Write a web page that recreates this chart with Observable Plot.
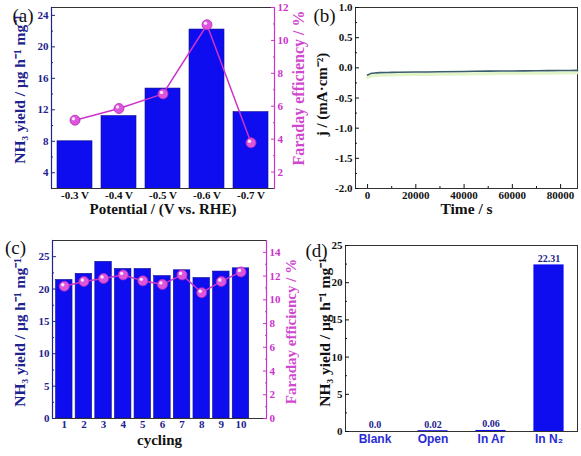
<!DOCTYPE html>
<html><head><meta charset="utf-8">
<script src="https://cdn.jsdelivr.net/npm/d3@7"></script>
<script src="https://cdn.jsdelivr.net/npm/@observablehq/plot@0.6"></script>
<style>
body{margin:0;background:#fff;}
#wrap{position:relative;width:581px;height:456px;overflow:hidden;background:#fff;}
#wrap svg{position:absolute;background:transparent;overflow:visible;}
</style></head><body><div id="wrap"></div>
<script>
// ---- (a) potential dependence ----
const potentials = ["-0.3 V", "-0.4 V", "-0.5 V", "-0.6 V", "-0.7 V"];
const yieldA = [8.0, 11.2, 14.7, 22.2, 11.7];
const feA = [5.15, 5.86, 6.75, 10.95, 3.78];
// ---- (b) chronoamperometry ----
const timeB = [0, 500, 1000, 2000, 3000, 5000, 10000, 20000, 30000, 40000, 50000, 60000, 70000, 80000, 87000];
const currentB = [-0.12, -0.11, -0.10, -0.09, -0.085, -0.08, -0.076, -0.07, -0.066, -0.06, -0.055, -0.052, -0.048, -0.045, -0.042];
// ---- (c) cycling ----
const cycles = [1, 2, 3, 4, 5, 6, 7, 8, 9, 10];
const yieldC = [21.4, 22.35, 24.2, 23.1, 23.1, 22.0, 22.9, 21.7, 22.7, 23.2];
const feC = [11.15, 11.55, 11.8, 12.1, 11.6, 11.3, 12.1, 10.6, 11.55, 12.35];
// ---- (d) control experiments ----
const conditions = ["Blank", "Open", "In Ar", "In N₂"];
const yieldD = [0.0, 0.02, 0.06, 22.31];
const labelD = ["0.0", "0.02", "0.06", "22.31"];

// tick values
const yTicksA = [4, 8, 12, 16, 20, 24], yMinorA = [6, 10, 14, 18, 22];
const feTicksA = [2, 4, 6, 8, 10, 12], feMinorA = [3, 5, 7, 9, 11];
const yTicksB = [-2, -1.5, -1, -0.5, 0, 0.5, 1], yMinorB = [-1.75, -1.25, -0.75, -0.25, 0.25, 0.75];
const xTicksB = [0, 20000, 40000, 60000, 80000], xMinorB = [10000, 30000, 50000, 70000];
const yTicksC = [0, 5, 10, 15, 20, 25], yMinorC = [2.5, 7.5, 12.5, 17.5, 22.5];
const feTicksC = [0, 2, 4, 6, 8, 10, 12, 14], feMinorC = [1, 3, 5, 7, 9, 11, 13];
const yTicksD = [0, 5, 10, 15, 20, 25], yMinorD = [2.5, 7.5, 12.5, 17.5, 22.5];

const wrap = document.getElementById("wrap");
function put(svg, left, top) { svg.style.left = left + "px"; svg.style.top = top + "px"; wrap.appendChild(svg); }

const serif = "Liberation Serif";
const navy = "#22228e", blue = "#0d0df0", edge = "#0a0a8c", mag = "#cc33cc", magText = "#d048d0", ink = "#111";
const style = {fontFamily: serif, fontWeight: "bold", fontSize: "11px", background: "transparent", overflow: "visible"};
const titleStyle = {fontFamily: serif, fontWeight: "bold", fontSize: 15};
const vTitle = {fontFamily: serif, fontWeight: "bold", fontSize: 15.5, rotate: -90, textAnchor: "middle", lineAnchor: "middle"};
const blank = () => "";

function panelLabel(t, dx, dy) {
  return Plot.text([t], {frameAnchor: "top-left", textAnchor: "middle", lineAnchor: "middle", dx, dy,
    fontFamily: serif, fontWeight: "normal", fontSize: 19, fill: ink});
}

// ================= (a) =================
const dataA = potentials.map((p, i) => ({p, y: yieldA[i], fe: feA[i]}));
const dimA = {width: 300, height: 228, marginLeft: 51, marginRight: 26, marginTop: 7, marginBottom: 40};
const xA = {type: "band", domain: potentials, paddingInner: 0.2, paddingOuter: 0.1, label: null};

put(Plot.plot({
  ...dimA, style,
  x: xA,
  y: {domain: [2, 25], label: null},
  marks: [
    Plot.barY(dataA, {x: "p", y: "y", fill: blue, stroke: edge, strokeWidth: 0.6, clip: true}),
    Plot.frame({stroke: "#333"}),
    Plot.frame({anchor: "left", stroke: navy, strokeWidth: 1.2}),
    Plot.axisY(yTicksA, {tickSize: -4, tickPadding: 7, color: navy, label: null}),
    Plot.axisY(yMinorA, {tickSize: -2, tickFormat: blank, color: navy, label: null}),
    Plot.axisX({tickSize: 0, tickPadding: 3, color: ink, label: null}),
    Plot.text(["Potential / (V vs. RHE)"], {frameAnchor: "bottom", dy: 25.5, fill: ink, ...titleStyle}),
    Plot.text(["NH₃ yield / μg h⁻¹ mg⁻¹"], {frameAnchor: "left", dx: -31, dy: -8.5, fill: navy, ...vTitle}),
    panelLabel("(a)", -28.5, 8)
  ]
}), 0, 0);

put(Plot.plot({
  ...dimA, style,
  x: {...xA, axis: null},
  y: {domain: [1, 12], label: null},
  marks: [
    Plot.frame({anchor: "right", stroke: mag, strokeWidth: 1.2}),
    Plot.axisY(feTicksA, {anchor: "right", tickSize: -4, tickPadding: 7, color: mag, label: null}),
    Plot.axisY(feMinorA, {anchor: "right", tickSize: -2, tickFormat: blank, color: mag, label: null}),
    Plot.line(dataA, {x: "p", y: "fe", stroke: mag, strokeWidth: 1.5}),
    Plot.dot(dataA, {x: "p", y: "fe", r: 5, fill: "#dc55dc", stroke: "#b52ab5", strokeWidth: 0.8}),
    Plot.dot(dataA, {x: "p", y: "fe", r: 1.7, fill: "#fff", fillOpacity: 0.85, stroke: null, dx: -1.5, dy: -1.5}),
    Plot.text(["Faraday efficiency / %"], {frameAnchor: "right", dx: 24.5, dy: -10, fill: magText, ...vTitle, fontSize: 16})
  ]
}), 0, 0);

// ================= (b) =================
const dataB = timeB.map((t, i) => ({t, j: currentB[i]}));
put(Plot.plot({
  width: 291, height: 228, marginLeft: 65, marginRight: 4, marginTop: 7, marginBottom: 40, style,
  x: {domain: [-5000, 87000], label: null},
  y: {domain: [-2, 1], label: null},
  marks: [
    Plot.frame({stroke: "#333"}),
    Plot.axisY(yTicksB, {tickSize: -4, tickPadding: 7, tickFormat: d => d.toFixed(1), color: ink, label: null}),
    Plot.axisY(yMinorB, {tickSize: -2, tickFormat: blank, color: ink, label: null}),
    Plot.axisX(xTicksB, {tickSize: -4, tickPadding: 7, tickFormat: d => String(d), color: ink, label: null}),
    Plot.axisX(xMinorB, {tickSize: -2, tickFormat: blank, color: ink, label: null}),
    Plot.line(dataB, {x: "t", y: "j", stroke: "#e2f4c8", strokeWidth: 3, dy: 2.5, curve: "monotone-x"}),
    Plot.line(dataB, {x: "t", y: "j", stroke: "#3b5e6c", strokeWidth: 1.6, curve: "monotone-x"}),
    Plot.text(["Time / s"], {frameAnchor: "bottom", dy: 25.5, fill: ink, ...titleStyle, fontSize: 15.5}),
    Plot.text(["j / (mA·cm⁻²)"], {frameAnchor: "left", dx: -33, dy: -3.5, fill: ink, ...vTitle, fontSize: 15}),
    panelLabel("(b)", -31, 8)
  ]
}), 290, 0);

// ================= (c) =================
const dataC = cycles.map((c, i) => ({c, y: yieldC[i], fe: feC[i]}));
const dimC = {width: 300, height: 228, marginLeft: 52, marginRight: 34, marginTop: 12, marginBottom: 38};
const xC = {domain: [0.4, 11.3], label: null};

put(Plot.plot({
  ...dimC, style,
  x: xC,
  y: {domain: [0, 27.5], label: null},
  marks: [
    Plot.rectY(dataC, {x1: d => d.c - 0.42, x2: d => d.c + 0.42, y: "y", fill: blue, stroke: edge, strokeWidth: 0.6}),
    Plot.frame({stroke: "#333"}),
    Plot.frame({anchor: "left", stroke: navy, strokeWidth: 1.2}),
    Plot.axisY(yTicksC, {tickSize: -4, tickPadding: 7, color: navy, label: null}),
    Plot.axisY(yMinorC, {tickSize: -2, tickFormat: blank, color: navy, label: null}),
    Plot.axisX(cycles, {tickSize: 0, tickPadding: 2, color: navy, label: null}),
    Plot.text(["cycling"], {frameAnchor: "bottom", dy: 26.5, fill: ink, ...titleStyle}),
    Plot.text(["NH₃ yield / μg h⁻¹ mg⁻¹"], {frameAnchor: "left", dx: -32, dy: 3, fill: navy, ...vTitle}),
    panelLabel("(c)", -37, 7.5)
  ]
}), 0, 228);

put(Plot.plot({
  ...dimC, style,
  x: {...xC, axis: null},
  y: {domain: [0, 15], label: null},
  marks: [
    Plot.frame({anchor: "right", stroke: mag, strokeWidth: 1.2}),
    Plot.axisY(feTicksC, {anchor: "right", tickSize: -4, tickPadding: 7, color: mag, label: null}),
    Plot.axisY(feMinorC, {anchor: "right", tickSize: -2, tickFormat: blank, color: mag, label: null}),
    Plot.line(dataC, {x: "c", y: "fe", stroke: mag, strokeWidth: 1.5}),
    Plot.dot(dataC, {x: "c", y: "fe", r: 5, fill: "#dc55dc", stroke: "#b52ab5", strokeWidth: 0.8}),
    Plot.dot(dataC, {x: "c", y: "fe", r: 1.7, fill: "#fff", fillOpacity: 0.85, stroke: null, dx: -1.5, dy: -1.5}),
    Plot.text(["Faraday efficiency / %"], {frameAnchor: "right", dx: 25, dy: 2, fill: magText, ...vTitle, fontSize: 15})
  ]
}), 0, 228);

// ================= (d) =================
const dataD = conditions.map((k, i) => ({k, y: yieldD[i], label: labelD[i]}));
put(Plot.plot({
  width: 291, height: 228, marginLeft: 55, marginRight: 4, marginTop: 17, marginBottom: 25, style,
  x: {type: "band", domain: conditions, paddingInner: 0.5, paddingOuter: 0.25, label: null},
  y: {domain: [0, 25], label: null},
  marks: [
    Plot.barY(dataD, {x: "k", y: "y", fill: blue, stroke: blue, strokeWidth: 1.2}),
    Plot.frame({stroke: "#333"}),
    Plot.axisY(yTicksD, {tickSize: -4, tickPadding: 7, color: ink, label: null}),
    Plot.axisY(yMinorD, {tickSize: -2, tickFormat: blank, color: ink, label: null}),
    Plot.axisX({tickSize: 0, tickPadding: 3, color: "#2a2ad6", fontFamily: "Liberation Sans", fontSize: 12, label: null}),
    Plot.text(dataD, {x: "k", y: "y", text: "label", dy: -7, fill: navy, fontFamily: serif, fontWeight: "bold", fontSize: 10}),
    Plot.text(["NH₃ yield / μg h⁻¹ mg⁻¹"], {frameAnchor: "left", dx: -20, dy: -6, fill: ink, ...vTitle}),
    panelLabel("(d)", -29, 5.5)
  ]
}), 290, 228);
</script>
</body></html>
